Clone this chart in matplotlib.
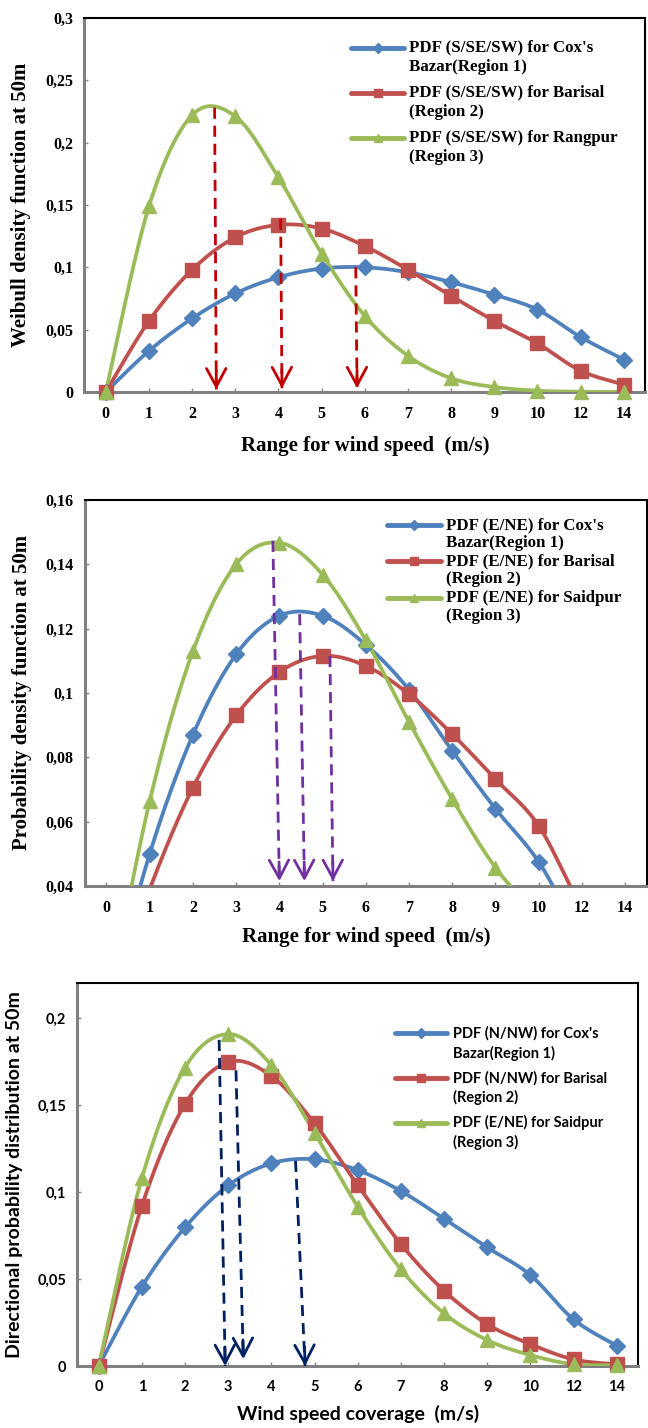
"""Weibull PDFs of wind speed at 50m for three regions, three wind directions."""

import matplotlib.pyplot as plt
import numpy as np
from matplotlib.lines import Line2D

# x axis is categorical in the source chart (10 -> 12 -> 14 equally spaced)
speed_labels = ["0", "1", "2", "3", "4", "5", "6", "7", "8", "9", "10", "12", "14"]

# --- panel 1: S/SE/SW ---
s_coxs = [0.0, 0.033, 0.059, 0.079, 0.092, 0.099, 0.100, 0.096, 0.088, 0.078, 0.066, 0.044, 0.026]
s_barisal = [0.0, 0.057, 0.098, 0.124, 0.134, 0.131, 0.117, 0.098, 0.077, 0.057, 0.039, 0.017, 0.006]
s_rangpur = [0.0, 0.149, 0.222, 0.221, 0.172, 0.111, 0.061, 0.029, 0.011, 0.004, 0.001, 0.0002, 0.0]
s_labels = [
    "PDF (S/SE/SW) for Cox's\nBazar(Region 1)",
    "PDF (S/SE/SW) for Barisal\n(Region 2)",
    "PDF (S/SE/SW) for Rangpur\n(Region 3)",
]
# arrows: (x at top, y at top, x at tip, y at tip)
s_arrows = [(2.52, 0.228, 2.56, 0.002), (4.05, 0.139, 4.08, 0.003), (5.79, 0.100, 5.82, 0.003)]

# --- panel 2: E/NE ---
e_coxs = [0.0, 0.050, 0.087, 0.112, 0.124, 0.124, 0.115, 0.101, 0.082, 0.064, 0.0475, 0.024, 0.008]
e_barisal = [0.0, 0.039, 0.0706, 0.093, 0.1065, 0.1115, 0.1084, 0.0996, 0.0872, 0.0732, 0.0587, 0.033, 0.012]
e_saidpur = [0.0, 0.0664, 0.113, 0.140, 0.1467, 0.1368, 0.1164, 0.091, 0.067, 0.0457, 0.030, 0.010, 0.002]
e_labels = [
    "PDF (E/NE) for Cox's\nBazar(Region 1)",
    "PDF (E/NE) for Barisal\n(Region 2)",
    "PDF (E/NE) for Saidpur\n(Region 3)",
]
e_arrows = [(3.85, 0.1473, 4.0, 0.0415), (4.47, 0.1245, 4.58, 0.0415), (5.17, 0.1115, 5.24, 0.0415)]

# --- panel 3: N/NW ---
n_coxs = [0.0, 0.0456, 0.0797, 0.1038, 0.1165, 0.1188, 0.1126, 0.1006, 0.0847, 0.0682, 0.0523, 0.0268, 0.0117]
n_barisal = [0.0, 0.092, 0.1506, 0.1747, 0.1667, 0.1395, 0.104, 0.0701, 0.0433, 0.0241, 0.0126, 0.0038, 0.001]
n_saidpur = [0.0, 0.1079, 0.1716, 0.1908, 0.173, 0.134, 0.0916, 0.0556, 0.0303, 0.0149, 0.0063, 0.001, 0.0005]
n_labels = [
    "PDF (N/NW) for Cox's\nBazar(Region 1)",
    "PDF (N/NW) for Barisal\n(Region 2)",
    "PDF (E/NE) for Saidpur\n(Region 3)",
]
n_arrows = [(2.79, 0.1875, 2.93, 0.0), (3.18, 0.170, 3.35, 0.004), (4.56, 0.118, 4.78, 0.0)]

BLUE, RED, GREEN = "#4F81BD", "#C0504D", "#9BBB59"
MARKERS = [("D", 8.5), ("s", 10.5), ("^", 10.5)]


def smooth(y, n=40):
    """Excel-like smoothed line: Catmull-Rom as cubic Bezier, on category index."""
    pts = np.column_stack([np.arange(len(y), dtype=float), np.asarray(y, dtype=float)])
    p = np.vstack([pts[0], pts, pts[-1]])
    t = np.linspace(0, 1, n)[:, None]
    segs = []
    for i in range(1, len(p) - 2):
        p0, p1, p2, p3 = p[i - 1], p[i], p[i + 1], p[i + 2]
        c1 = p1 + (p2 - p0) / 6
        c2 = p2 - (p3 - p1) / 6
        segs.append((1 - t) ** 3 * p1 + 3 * (1 - t) ** 2 * t * c1 + 3 * (1 - t) * t ** 2 * c2 + t ** 3 * p2)
    return np.vstack(segs)


def draw_panel(fig, rect, series, labels, arrows, arrow_color, ylim, ystep, font, sizes,
               ylabel, xlabel, legend_pos, xlabelpad):
    ax = fig.add_axes(rect)
    tick_fs, lab_fs, leg_fs = sizes
    ymin, ymax_view, ytop = ylim
    for (vals, color), (mk, ms) in zip(series, MARKERS):
        curve = smooth(vals)
        ax.plot(curve[:, 0], curve[:, 1], color=color, lw=2.7, solid_capstyle="round", zorder=3)
        idx = np.arange(len(vals))
        keep = np.asarray(vals) >= ymin - 1e-9
        ax.plot(idx[keep], np.asarray(vals)[keep], ls="none", marker=mk, ms=ms, color=color,
                mec=color, zorder=4, clip_on=False)

    for x_top, y_top, x_tip, y_tip in arrows:
        ax.plot([x_top, x_tip], [y_top, y_tip], color=arrow_color, lw=2, ls=(0, (4, 2.5)), zorder=5)
        ax.annotate("", xy=(x_tip, y_tip), xytext=(x_tip - (x_tip - x_top) * 0.05, y_tip + (ytop - ymin) * 0.05),
                    arrowprops=dict(arrowstyle="->,head_length=1.3,head_width=0.7", color=arrow_color,
                                    lw=2, shrinkA=0, shrinkB=0), zorder=6)

    ax.set_xlim(-0.5, 12.5)
    ax.set_ylim(ymin, ytop)
    ax.set_xticks(np.arange(len(speed_labels)))
    ax.set_xticklabels(speed_labels)
    yt = np.arange(ymin, ymax_view + ystep / 2, ystep)
    ax.set_yticks(yt)
    ax.set_yticklabels([("%g" % round(v, 3)).replace(".", ",") for v in yt])
    ax.tick_params(axis="both", direction="in", length=3, width=1, color="#888888",
                   labelsize=tick_fs, pad=8)
    ax.tick_params(axis="x", pad=10)
    for lbl in ax.get_xticklabels() + ax.get_yticklabels():
        lbl.set_fontfamily(font)
        lbl.set_fontweight("bold")
    for side in ("top", "right"):
        ax.spines[side].set_color("black")
        ax.spines[side].set_linewidth(1.5)
    for side in ("left", "bottom"):
        ax.spines[side].set_color("#808080")
        ax.spines[side].set_linewidth(2.2)

    ax.set_xlabel(xlabel, fontsize=lab_fs, fontweight="bold", fontfamily=font, labelpad=xlabelpad)
    ax.set_ylabel(ylabel, fontsize=lab_fs, fontweight="bold", fontfamily=font, labelpad=10)

    # legend drawn by hand so the key line sits on the first text line
    x0, x1, xt, rows, line_gap = legend_pos
    for (vals, color), (mk, ms), label, yr in zip(series, MARKERS, labels, rows):
        ax.add_line(Line2D([x0, x1], [yr, yr], transform=ax.transAxes, color=color, lw=3.5,
                           solid_capstyle="round"))
        ax.add_line(Line2D([(x0 + x1) / 2], [yr], transform=ax.transAxes, color=color,
                           marker=mk, ms=ms * 0.6, ls="none"))
        for k, part in enumerate(label.split("\n")):
            ax.text(xt, yr - k * line_gap, part, transform=ax.transAxes, ha="left", va="center",
                    fontsize=leg_fs, fontweight="bold", fontfamily=font)
    return ax


def main() -> None:
    fig = plt.figure(figsize=(6.48, 14.28), dpi=100)

    draw_panel(fig, [0.130, 0.7255, 0.866, 0.262],
               [(s_coxs, BLUE), (s_barisal, RED), (s_rangpur, GREEN)], s_labels, s_arrows, "#C00000",
               (0.0, 0.3, 0.3), 0.05, "Liberation Serif", (11.5, 15, 12.2),
               "Weibull density function at 50m", "Range for wind speed  (m/s)",
               (0.476, 0.570, 0.579, [0.920, 0.800, 0.679], 0.052), 10)

    draw_panel(fig, [0.131, 0.3796, 0.867, 0.2703],
               [(e_coxs, BLUE), (e_barisal, RED), (e_saidpur, GREEN)], e_labels, e_arrows, "#7030A0",
               (0.04, 0.16, 0.16), 0.02, "Liberation Serif", (11.5, 15, 12.2),
               "Probability density function at 50m", "Range for wind speed  (m/s)",
               (0.538, 0.634, 0.642, [0.935, 0.842, 0.746], 0.047), 8)

    draw_panel(fig, [0.119, 0.0434, 0.866, 0.268],
               [(n_coxs, BLUE), (n_barisal, RED), (n_saidpur, GREEN)], n_labels, n_arrows, "#002060",
               (0.0, 0.2, 0.22), 0.05, "Lato", (10.5, 14, 10.5),
               "Directional probability distribution at 50m", "Wind speed coverage  (m/s)",
               (0.566, 0.660, 0.669, [0.870, 0.753, 0.636], 0.052), 8)

    fig.savefig("out.png", dpi=100)
    plt.close(fig)


if __name__ == "__main__":
    main()
